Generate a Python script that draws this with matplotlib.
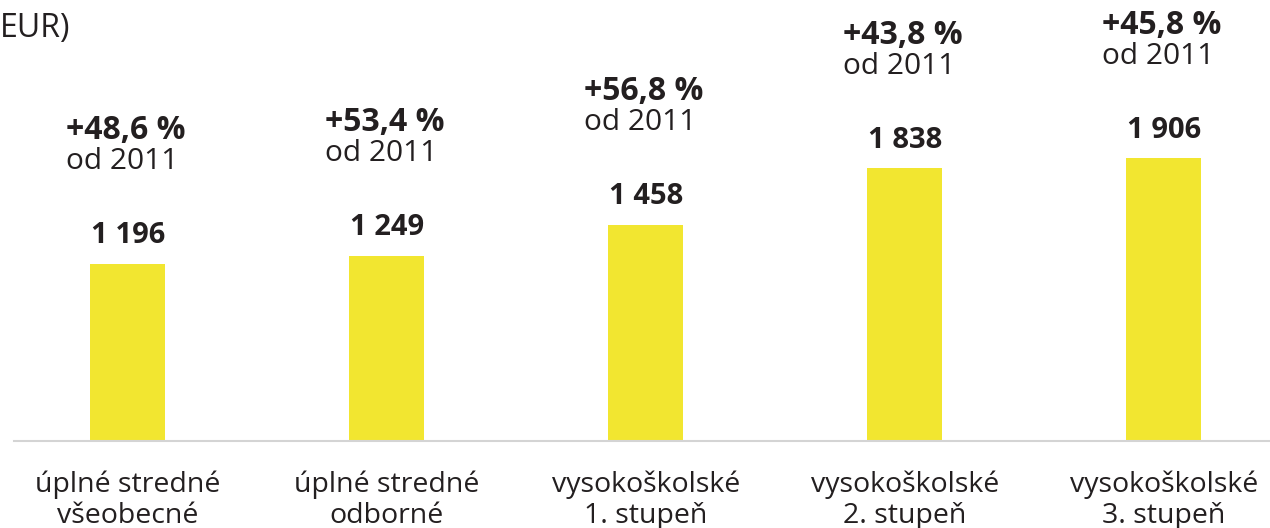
import numpy as np
import matplotlib.pyplot as plt

plt.rcParams['font.family'] = ['Open Sans', 'DejaVu Sans']

# Data
categories = ['úplné stredné\nvšeobecné', 'úplné stredné\nodborné',
              'vysokoškolské\n1. stupeň', 'vysokoškolské\n2. stupeň',
              'vysokoškolské\n3. stupeň']
values = [1196, 1249, 1458, 1838, 1906]
values_lbl = ['1 196', '1 249', '1 458', '1 838', '1 906']
growth = ['+48,6 %', '+53,4 %', '+56,8 %', '+43,8 %', '+45,8 %']

bar_color = '#f2e630'
text_color = '#231f20'

fig = plt.figure(figsize=(12.7, 5.28), dpi=100)
ax = fig.add_axes([14 / 1270, 87 / 528, 1256 / 1270, 441 / 528])
x = np.arange(len(values))
ax.bar(x, values, width=0.29, color=bar_color, zorder=2)
ax.set_xlim(-0.44, 4.41)
ax.set_ylim(0, 2972)

for s in ['top', 'right', 'left']:
    ax.spines[s].set_visible(False)
ax.spines['bottom'].set_color('#d4d4d4')
ax.spines['bottom'].set_linewidth(1.5)
ax.set_yticks([])
ax.set_xticks(x)
ax.set_xticklabels(categories, fontsize=20.5, color=text_color, linespacing=1.15)
ax.tick_params(axis='x', length=0, pad=21)

for xi, v, vl, g in zip(x, values, values_lbl, growth):
    ax.annotate(vl, (xi, v), xytext=(0, 28), textcoords='offset pixels',
                ha='center', va='center', fontsize=21, fontweight='bold',
                color=text_color)
    ax.annotate(g, (xi, v), xytext=(-62, 133), textcoords='offset pixels',
                ha='left', va='center', fontsize=23, fontweight='bold',
                color=text_color)
    ax.annotate('od 2011', (xi, v), xytext=(-62, 102), textcoords='offset pixels',
                ha='left', va='center', fontsize=21.5, color=text_color)

fig.text(0, 1 - 28 / 528, 'EUR)', ha='left', va='center', fontsize=23,
         color=text_color)

fig.savefig('out.png', dpi=100, facecolor='white')
